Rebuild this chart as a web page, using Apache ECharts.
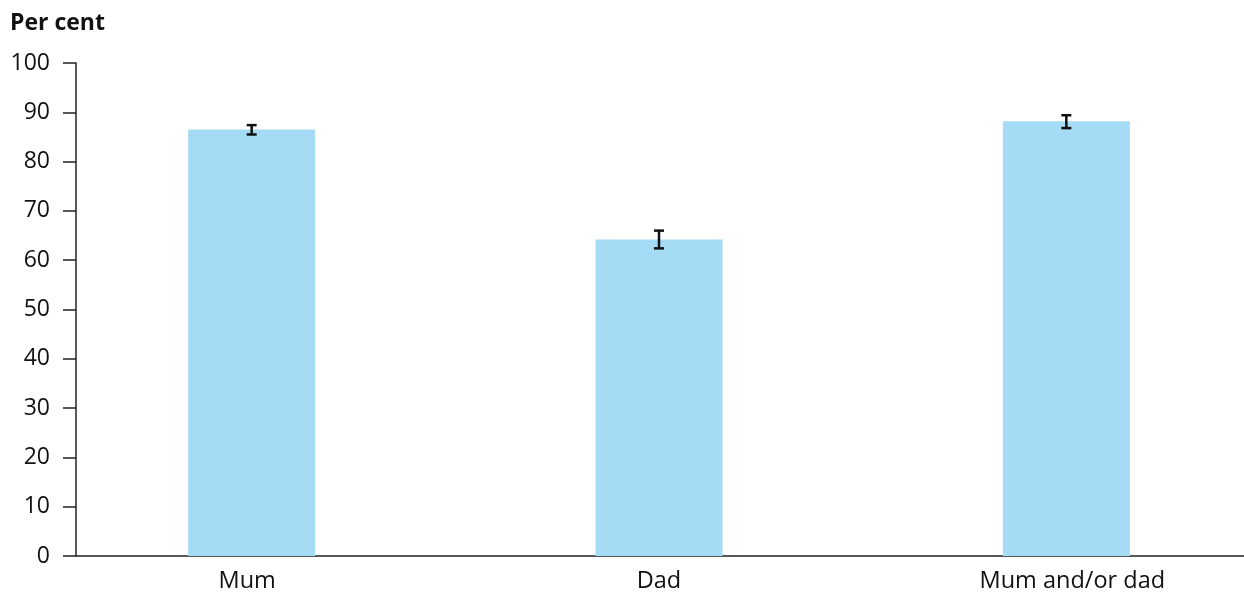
<!DOCTYPE html>
<html>
<head>
<meta charset="utf-8">
<script src="https://cdn.jsdelivr.net/npm/echarts@6/dist/echarts.min.js"></script>
<style>
html,body{margin:0;padding:0;background:#fff;overflow:hidden;width:1244px;height:594px;}
#c{width:1272px;height:594px;}
</style>
</head>
<body>
<div id="c"></div>
<script>
const categories = ['Mum', 'Dad', 'Mum and/or dad'];
const values = [86.5, 64.2, 88.2];
const lower = [85.5, 62.4, 86.8];
const upper = [87.4, 66.0, 89.4];
const yTicks = [0, 10, 20, 30, 40, 50, 60, 70, 80, 90, 100];

const FONT = '"Open Sans", "Noto Sans", sans-serif';
const chart = echarts.init(document.getElementById('c'), null, {renderer: 'canvas'});

const option = {
  animation: false,
  title: {
    text: 'Per cent', left: 5, top: 7,
    textStyle: {fontFamily: FONT, fontSize: 23, fontWeight: 'bold', color: '#111'}
  },
  grid: [
    {left: 76, right: 28, top: 63, bottom: 38},
    {left: 48, right: 2, top: 63, bottom: 38}
  ],
  xAxis: [
    {type: 'value', gridIndex: 0, min: 0, max: 1, show: true,
     axisLine: {show: true, lineStyle: {color: '#222', width: 1.5}},
     axisTick: {show: false}, axisLabel: {show: false}, splitLine: {show: false}},
    {type: 'category', gridIndex: 1, data: categories,
     axisLine: {show: false}, axisTick: {show: false},
     axisLabel: {fontFamily: FONT, fontSize: 23.5, color: '#111', margin: 13,
       formatter: function (v, i) { return i === 0 ? '{a|' + v + '}' : (i === 2 ? '{c|' + v + '}' : '{b|' + v + '}'); },
       rich: {
         a: {fontFamily: FONT, fontSize: 23.5, color: '#111', padding: [0, 9, 0, 0]},
         b: {fontFamily: FONT, fontSize: 23.5, color: '#111'},
         c: {fontFamily: FONT, fontSize: 23.5, color: '#111', padding: [0, 0, 0, 12]}
       }}}
  ],
  yAxis: [
    {type: 'value', gridIndex: 0, min: yTicks[0], max: yTicks[yTicks.length - 1], interval: 10,
     axisLine: {show: true, lineStyle: {color: '#222', width: 1.5}},
     axisTick: {show: true, length: 13, lineStyle: {color: '#222', width: 1.5}},
     axisLabel: {fontFamily: FONT, fontSize: 23, color: '#111', margin: 26},
     splitLine: {show: false}},
    {type: 'value', gridIndex: 1, min: 0, max: 100, show: false}
  ],
  series: [
    {type: 'bar', xAxisIndex: 1, yAxisIndex: 1, data: values, barWidth: 127,
     itemStyle: {color: '#a5dbf4'}},
    {type: 'custom', xAxisIndex: 1, yAxisIndex: 1,
     data: categories.map((c, i) => [i, lower[i], upper[i]]),
     renderItem: function (params, api) {
       const lo = api.coord([api.value(0), api.value(1)]);
       const hi = api.coord([api.value(0), api.value(2)]);
       const hw = 5;
       const style = {stroke: '#111', lineWidth: 2.5};
       return {type: 'group', children: [
         {type: 'line', shape: {x1: lo[0], y1: lo[1], x2: hi[0], y2: hi[1]}, style: style},
         {type: 'line', shape: {x1: lo[0] - hw, y1: lo[1], x2: lo[0] + hw, y2: lo[1]}, style: style},
         {type: 'line', shape: {x1: hi[0] - hw, y1: hi[1], x2: hi[0] + hw, y2: hi[1]}, style: style}
       ]};
     },
     z: 5}
  ]
};
chart.setOption(option);
</script>
</body>
</html>
